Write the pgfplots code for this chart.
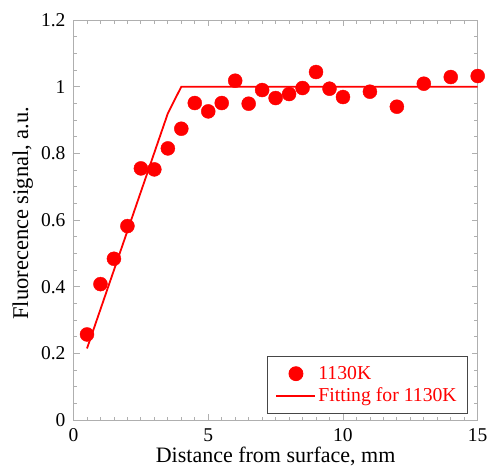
\documentclass[border=0pt]{standalone}
\usepackage{pgfplots}
\pgfplotsset{compat=1.18}
\usepackage{fontspec}
\setmainfont{Liberation Serif}

\definecolor{axgray}{RGB}{175,175,175}
\definecolor{leggray}{RGB}{70,70,70}

\pgfplotsset{
    markleg/.style={legend image code/.code={\draw[mark repeat=2,mark phase=2,##1] plot coordinates {(0pt,0pt) (19.5pt,0pt) (39pt,0pt)};}},
    lineleg/.style={legend image code/.code={\draw[##1] (0pt,0pt) -- (39pt,0pt);}},
}

\begin{document}
\begin{tikzpicture}
\begin{axis}[
    width=404pt, height=400pt,
    scale only axis,
    xmin=0, xmax=15, ymin=0, ymax=1.2,
    xtick={0,5,10,15},
    ytick={0,0.2,0.4,0.6,0.8,1,1.2},
    minor x tick num=9,
    minor y tick num=3,
    tick align=inside,
    major tick length=6pt,
    minor tick length=3.5pt,
    axis line style={axgray, line width=0.8pt},
    every tick/.style={axgray, line width=0.8pt},
    tick label style={font=\fontsize{19.5}{22}\selectfont},
    /pgf/number format/assume math mode=true,
    yticklabel style={/pgf/number format/fixed, xshift=-4.5pt},
    xticklabel style={anchor=base, yshift=-21.5pt, inner sep=0pt},
    xlabel={Distance from surface, mm},
    ylabel={Fluorecence signal, a.u.},
    xlabel style={font=\fontsize{22}{26}\selectfont, at={(axis description cs:0.5,0)}, anchor=base, yshift=-42pt, inner sep=0pt},
    ylabel style={font=\fontsize{22.5}{26}\selectfont, at={(axis description cs:0,0.5)}, anchor=base, xshift=7pt, yshift=45.5pt, inner sep=0pt},
    legend style={
        at={(0.975,0.016)}, anchor=south east,
        draw=leggray, line width=0.8pt,
        font=\fontsize{19.7}{22}\selectfont,
        text=red,
        cells={anchor=west},
        inner xsep=8.5pt, inner ysep=8pt,
        row sep=3pt,
    },
]
\addplot[only marks, mark=*, mark size=7pt, red, markleg]
coordinates {
(0.5,0.257) (1,0.408) (1.5,0.484) (2,0.582) (2.5,0.755) (3,0.752)
(3.5,0.815) (4,0.874) (4.5,0.951) (5,0.926) (5.5,0.951) (6,1.018)
(6.5,0.949) (7,0.990) (7.5,0.966) (8,0.978) (8.5,0.996) (9,1.044)
(9.5,0.994) (10,0.969) (11,0.985) (12,0.940) (13,1.009) (14,1.029)
(15,1.032)
};
\addlegendentry{1130K}
\addplot[red, line width=1.8pt, lineleg] coordinates {
(0.5,0.215) (3.5,0.92) (4,1) (15,1)
};
\addlegendentry{Fitting for 1130K}
\end{axis}
\pgfresetboundingbox
\path ([shift={(-73.5pt,-46pt)}]current axis.south west) rectangle ([shift={(10.3pt,20pt)}]current axis.north east);
\end{tikzpicture}
\end{document}
